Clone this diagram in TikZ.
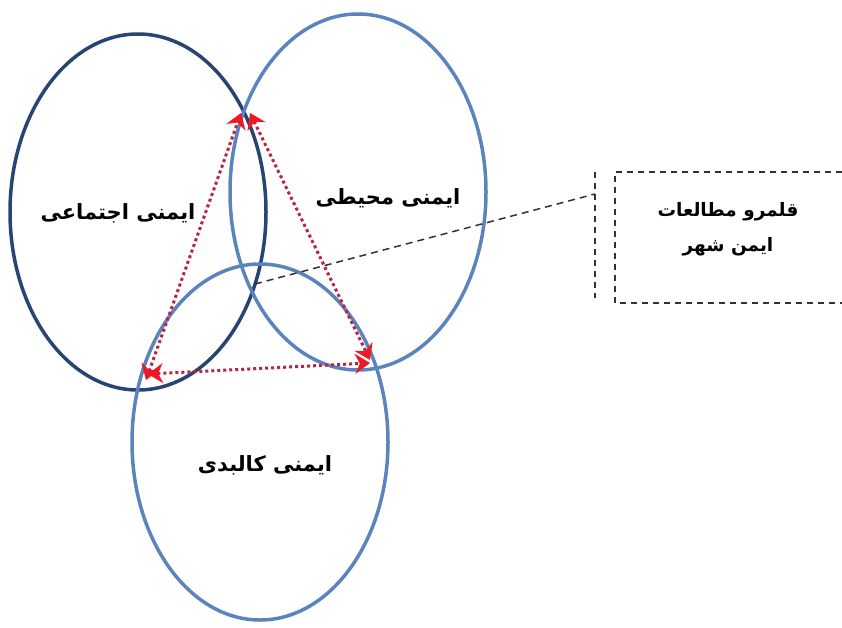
\documentclass[tikz,border=0pt]{standalone}
\usepackage{fontspec}
\usetikzlibrary{arrows.meta,shapes.geometric}
\TeXXeTstate=1
\newfontfamily\arabicfont[Script=Arabic]{DejaVu Sans}
\definecolor{navy}{RGB}{40,68,115}
\definecolor{steel}{RGB}{92,132,188}
\definecolor{dotred}{RGB}{185,35,70}
\definecolor{tipred}{RGB}{240,25,35}
\definecolor{dashgray}{RGB}{50,50,50}
\begin{document}
\begin{tikzpicture}[x=1pt,y=-1pt,
  ring/.style={ellipse,draw,line width=3.5pt,minimum width=256pt,minimum height=356pt,inner sep=0pt},
  lbl/.style={font=\arabicfont\bfseries\fontsize{21}{30}\selectfont,text=black,align=center},
  boxlbl/.style={font=\arabicfont\bfseries\fontsize{18.5}{35}\selectfont,text=black,align=center},
  dotarrow/.style={draw=dotred,line width=3pt,dash pattern=on 3pt off 3pt,{Stealth[length=15pt,width=20pt,color=tipred]}-{Stealth[length=15pt,width=20pt,color=tipred]}},
  leader/.style={draw=dashgray,line width=1.5pt,dash pattern=on 7pt off 5pt},
  boxline/.style={draw=dashgray,line width=1.2pt,dash pattern=on 6pt off 5pt}
]
\useasboundingbox (0,0) rectangle (842,628);
% circles
\node[ring,draw=navy] (c1) at (138,212) {};
\node[ring,draw=steel] (c2) at (358,192) {};
\node[ring,draw=steel] (c3) at (260,442) {};
% labels
\node[lbl] (l1) at (118,213) {\beginR ایمنی اجتماعی\endR};
\node[lbl] (l2) at (388,198) {\beginR ایمنی محیطی\endR};
\node[lbl] (l3) at (265,465) {\beginR ایمنی کالبدی\endR};
% triangle vertices
\coordinate (tl) at (241,113);
\coordinate (tr) at (250,113);
\coordinate (bl) at (146,380);
\coordinate (bl2) at (148,374);
\coordinate (br) at (370,360);
\coordinate (br2) at (370,363);
\draw[dotarrow] (bl) -- (tl);
\draw[dotarrow] (tr) -- (br);
\draw[dotarrow] (bl2) -- (br2);
% study domain box
\coordinate (core) at (255,284);
\coordinate (brk) at (595,194);
\coordinate (brkt) at (595,172);
\coordinate (brkb) at (595,298);
\coordinate (bxtl) at (615,172);
\coordinate (bxbl) at (615,303);
\coordinate (bxtr) at (842,172);
\coordinate (bxbr) at (842,303);
\draw[leader] (core) -- (brk);
\draw[boxline] (brkt) -- (brkb);
\draw[boxline] (bxtr) -- (bxtl) -- (bxbl) -- (bxbr);
\node[boxlbl] (box) at (728,229) {\beginR قلمرو مطالعات\endR\\\beginR ایمن شهر\endR};
\end{tikzpicture}
\end{document}
